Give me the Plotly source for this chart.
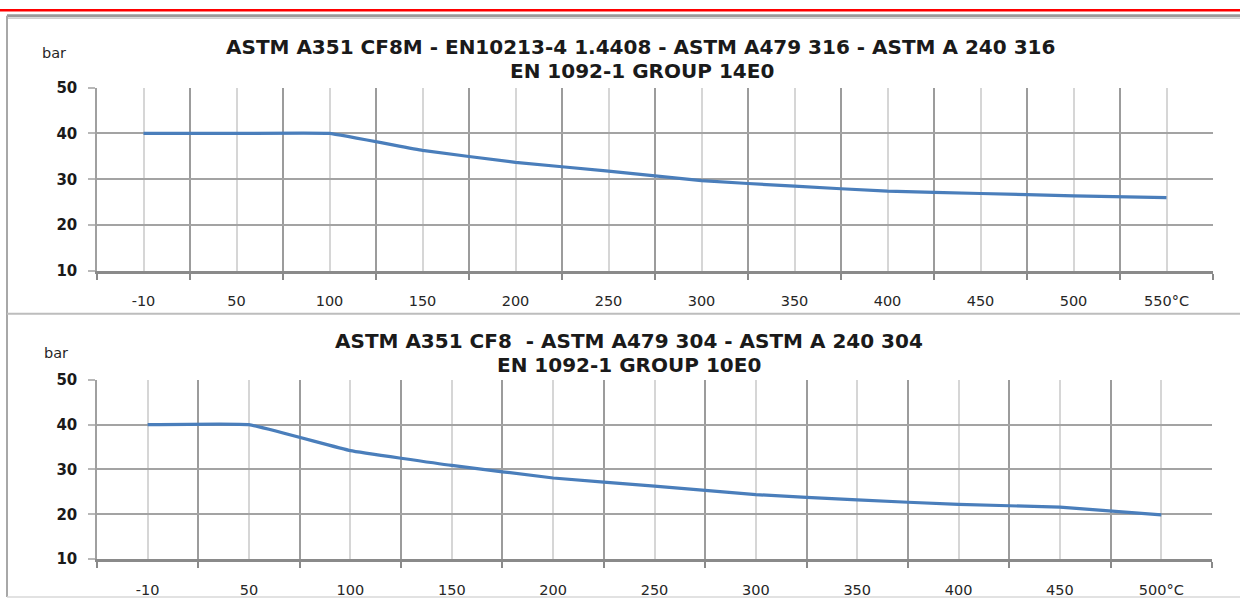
import plotly.graph_objects as go

# ---------------- data ----------------
temps_top = ["-10", "50", "100", "150", "200", "250", "300", "350", "400", "450", "500", "550"]
bar_top = [40, 40, 40, 36.3, 33.7, 31.8, 29.7, 28.5, 27.4, 26.9, 26.4, 26.0]

temps_bottom = ["-10", "50", "100", "150", "200", "250", "300", "350", "400", "450", "500"]
bar_bottom = [40, 40, 34.2, 30.9, 28.1, 26.3, 24.4, 23.2, 22.2, 21.6, 19.9]

y_ticks = [10, 20, 30, 40, 50]
unit = "°C"
y_unit = "bar"

title_top = ["ASTM A351 CF8M - EN10213-4 1.4408 - ASTM A479 316 - ASTM A 240 316",
             "EN 1092-1 GROUP 14E0"]
title_bottom = ["ASTM A351 CF8 \u00a0- ASTM A479 304 - ASTM A 240 304",
                "EN 1092-1 GROUP 10E0"]

# ---------------- layout helpers ----------------
W, H = 1240, 608
def px(x):
    return x / W
def py(y):
    return 1 - y / H

LINE_COLOR = "#4A7EBB"
TITLE_FONT = dict(family="DejaVu Sans", size=20, color="#1a1a1a", weight="bold")
TICK_FONT = dict(family="DejaVu Sans", size=14.5, color="#262626")
YTICK_FONT = dict(family="DejaVu Sans", size=15, color="#1a1a1a", weight="bold")

fig = go.Figure()

panels = [
    (temps_top, bar_top, "x", "y", (97, 1213), (81, 270), title_top, (640, 39), (642, 64), (54, 45)),
    (temps_bottom, bar_bottom, "x2", "y2", (97, 1212), (382, 567), title_bottom, (629, 342), (629, 367), (56, 355)),
]

annotations = []
for i, (cats, vals, xa, ya, (x0, x1), (y0, y1), titles, t1, t2, barpos) in enumerate(panels):
    n = len(cats)
    idx = list(range(n))
    labels = cats[:-1] + [cats[-1] + unit]
    fig.add_trace(go.Scatter(
        x=idx, y=vals, mode="lines", xaxis=xa, yaxis=ya, showlegend=False,
        line=dict(color=LINE_COLOR, width=3.2, shape="spline", smoothing=0.25),
        hoverinfo="skip"))
    xkey = "xaxis" if i == 0 else "xaxis2"
    ykey = "yaxis" if i == 0 else "yaxis2"
    fig.layout[xkey] = dict(
        domain=[px(x0), px(x1)], anchor=ya, range=[-0.5, n - 0.5],
        tickmode="array", tickvals=idx, ticktext=labels, ticks="",
        ticklabelstandoff=15,
        showgrid=True, gridcolor="#d6d6d6", gridwidth=2,
        minor=dict(tickmode="array", tickvals=[k - 0.5 for k in range(n + 1)],
                   showgrid=True, gridcolor="#9c9c9c", gridwidth=1.5,
                   ticks="outside", ticklen=6, tickcolor="#8a8a8a", tickwidth=2),
        showline=True, linecolor="#8a8a8a", linewidth=3,
        zeroline=False, tickfont=TICK_FONT, fixedrange=True)
    fig.layout[ykey] = dict(
        domain=[py(y1), py(y0)], anchor=xa, range=[10, 50],
        tickmode="array", tickvals=y_ticks,
        ticks="outside", ticklen=7, tickcolor="#b8b8b8", tickwidth=1.5,
        ticklabelstandoff=8,
        showgrid=True, gridcolor="#a3a3a3", gridwidth=1.5,
        showline=True, linecolor="#a0a0a0", linewidth=1.5,
        zeroline=False, tickfont=YTICK_FONT, fixedrange=True)
    annotations.append(dict(text=titles[0], x=px(t1[0]), y=py(t1[1]), xref="paper", yref="paper",
                            xanchor="center", yanchor="middle", showarrow=False, font=TITLE_FONT))
    annotations.append(dict(text=titles[1], x=px(t2[0]), y=py(t2[1]), xref="paper", yref="paper",
                            xanchor="center", yanchor="middle", showarrow=False, font=TITLE_FONT))
    annotations.append(dict(text=y_unit, x=px(barpos[0]), y=py(barpos[1]), xref="paper", yref="paper",
                            xanchor="center", yanchor="middle", showarrow=False,
                            font=dict(family="DejaVu Sans", size=14.5, color="#262626")))

shapes = [
    dict(type="rect", xref="paper", yref="paper", x0=0, x1=1, y0=py(2.5), y1=1,
         fillcolor="#ff0000", line=dict(width=0), layer="above"),
    dict(type="line", xref="paper", yref="paper", x0=px(7), x1=1, y0=py(7), y1=py(7),
         line=dict(color="#9a9a9a", width=3)),
    dict(type="line", xref="paper", yref="paper", x0=px(7), x1=1, y0=py(9.5), y1=py(9.5),
         line=dict(color="#d0d0d0", width=1.5)),
    dict(type="line", xref="paper", yref="paper", x0=px(7), x1=px(7), y0=py(606), y1=py(7),
         line=dict(color="#a8a8a8", width=2)),
    dict(type="line", xref="paper", yref="paper", x0=px(7), x1=1, y0=py(314), y1=py(314),
         line=dict(color="#bdbdbd", width=2)),
    dict(type="line", xref="paper", yref="paper", x0=px(7), x1=1, y0=py(606), y1=py(606),
         line=dict(color="#d8d8d8", width=1.5)),
]

fig.update_layout(
    width=W, height=H, margin=dict(l=0, r=0, t=0, b=0),
    paper_bgcolor="white", plot_bgcolor="white",
    annotations=annotations, shapes=shapes, showlegend=False,
)

fig.write_html("out.html", config={"displayModeBar": False})
